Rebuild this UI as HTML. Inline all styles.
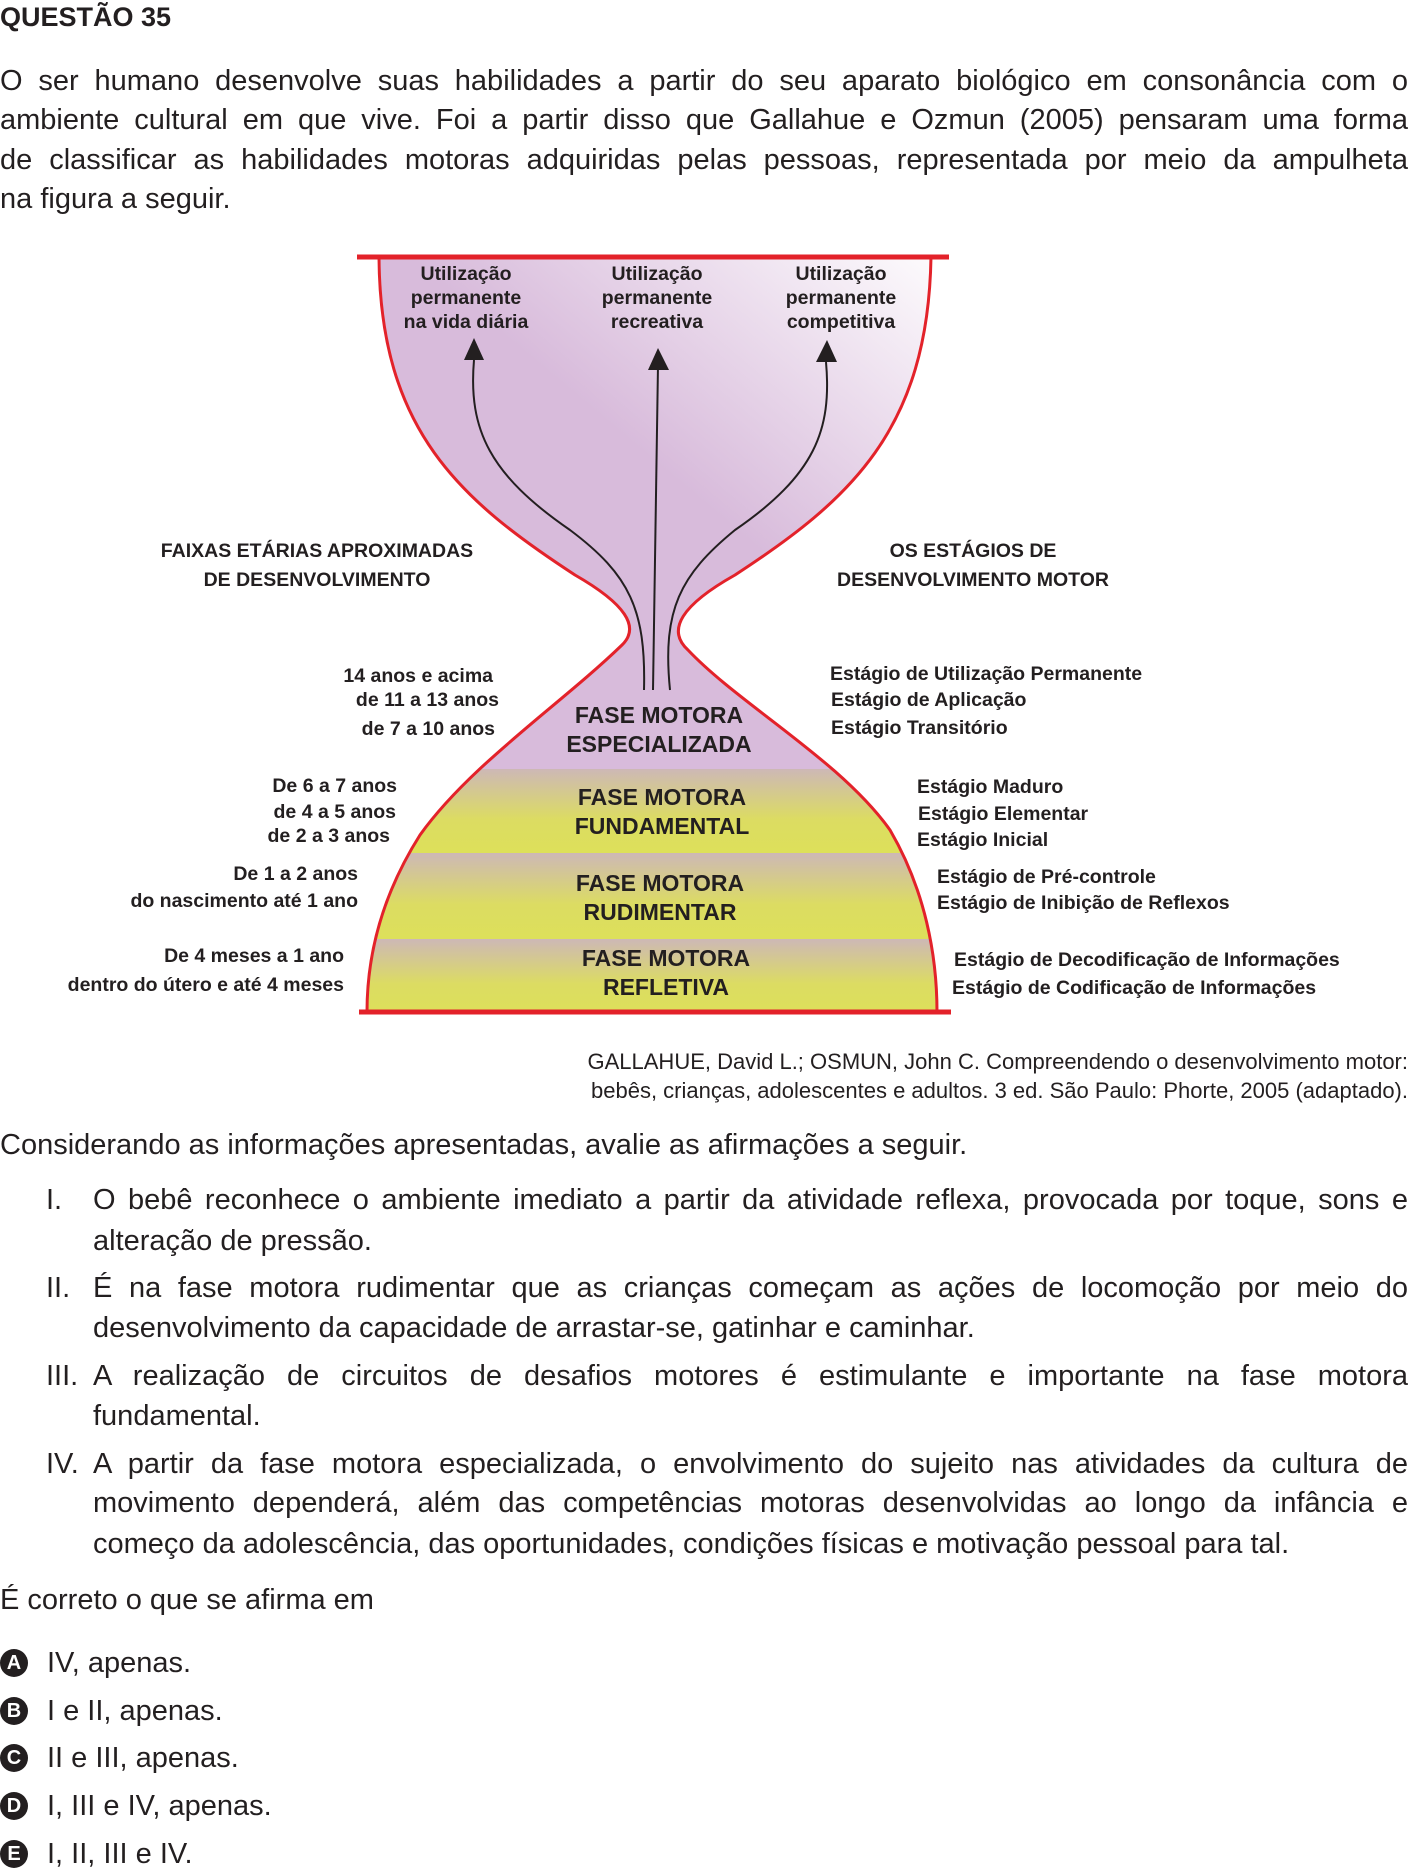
<!DOCTYPE html>
<html><head><meta charset="utf-8">
<style>
*{margin:0;padding:0;box-sizing:border-box}
body{width:1408px;height:1871px;background:#fff;position:relative;overflow:hidden;font-family:"Liberation Sans",sans-serif;color:#231f20}
.a{position:absolute;white-space:nowrap}
.j{position:absolute;left:0;width:1408px;height:40px;line-height:40px;font-size:29px;text-align:justify;text-align-last:justify;white-space:nowrap}
.li{position:absolute;left:93px;width:1315px;height:40px;line-height:40px;font-size:29px;text-align:justify;text-align-last:justify;white-space:nowrap}
.ln{text-align:left;text-align-last:left}
.num{position:absolute;height:40px;line-height:40px;font-size:29px}
.b{font-weight:bold;font-size:19.5px;height:24px;line-height:24px}
.r{text-align:right}
.c{text-align:center}
.ph{font-weight:bold;font-size:23px;line-height:29px;text-align:center;width:300px}
.opt{position:absolute;left:0;height:40px;line-height:40px;font-size:29px}
.opt span.cir{position:absolute;left:0;top:6px;width:28px;height:28px;border-radius:50%;background:#231f20;color:#fff;font-weight:bold;font-size:20px;line-height:28px;text-align:center}
.opt span.t{position:absolute;left:47px;white-space:nowrap}
</style></head><body>
<div class="a" style="left:0;top:2px;font-size:27px;font-weight:bold;line-height:30px">QUESTÃO 35</div>
<div class="j" style="top:61px">O ser humano desenvolve suas habilidades a partir do seu aparato biológico em consonância com o</div>
<div class="j" style="top:100px">ambiente cultural em que vive. Foi a partir disso que Gallahue e Ozmun (2005) pensaram uma forma</div>
<div class="j" style="top:140px">de classificar as habilidades motoras adquiridas pelas pessoas, representada por meio da ampulheta</div>
<div class="j ln" style="top:179px">na figura a seguir.</div>

<svg class="a" style="left:0;top:0" width="1408" height="1100" viewBox="0 0 1408 1100">
<defs>
<linearGradient id="pg" x1="0" y1="1" x2="1" y2="0">
<stop offset="0.55" stop-color="#d8bbdb"/><stop offset="1" stop-color="#ffffff"/></linearGradient>
<linearGradient id="yg" x1="0" y1="0" x2="0" y2="1">
<stop offset="0" stop-color="#cdb8b6"/><stop offset="0.6" stop-color="#dcdc62"/><stop offset="1" stop-color="#dde05a"/></linearGradient>
<clipPath id="hg"><path d="M379,257 C380,430 460,500 575,575 Q650,618 622,645 C560,705 470,765 420,835 C382,895 367,955 367,1012 L937,1012 C937,955 925,890 890,830 C840,760 740,705 688,650 Q655,620 735,575 C850,500 928,430 931,257 Z"/></clipPath>
</defs>
<g clip-path="url(#hg)">
<rect x="340" y="250" width="620" height="520" fill="url(#pg)"/>
<rect x="340" y="769" width="620" height="84" fill="url(#yg)"/>
<rect x="340" y="853" width="620" height="86" fill="url(#yg)"/>
<rect x="340" y="939" width="620" height="75" fill="url(#yg)"/>
</g>
<path d="M379,257 C380,430 460,500 575,575 Q650,618 622,645 C560,705 470,765 420,835 C382,895 367,955 367,1012" fill="none" stroke="#e3222a" stroke-width="3"/>
<path d="M931,257 C928,430 850,500 735,575 Q655,620 688,650 C740,705 840,760 890,830 C925,890 937,955 937,1012" fill="none" stroke="#e3222a" stroke-width="3"/>
<line x1="357" y1="257" x2="949" y2="257" stroke="#e3222a" stroke-width="5"/>
<line x1="359" y1="1012" x2="951" y2="1012" stroke="#e3222a" stroke-width="5"/>
<g fill="none" stroke="#231f20" stroke-width="2">
<path d="M644,690 C646,610 630,575 570,530 C490,475 468,430 474,360"/>
<path d="M653,690 L658,365"/>
<path d="M670,690 C662,610 680,575 735,530 C815,475 832,430 826,362"/>
</g>
<g fill="#231f20">
<polygon points="474,338 464,360 484,360"/>
<polygon points="658,348 648,370 669,370"/>
<polygon points="827,340 816,362 837,362"/>
</g>
</svg>

<div class="a b c" style="left:366px;width:200px;top:262px">Utilização</div>
<div class="a b c" style="left:366px;width:200px;top:286px">permanente</div>
<div class="a b c" style="left:366px;width:200px;top:310px">na vida diária</div>
<div class="a b c" style="left:557px;width:200px;top:262px">Utilização</div>
<div class="a b c" style="left:557px;width:200px;top:286px">permanente</div>
<div class="a b c" style="left:557px;width:200px;top:310px">recreativa</div>
<div class="a b c" style="left:741px;width:200px;top:262px">Utilização</div>
<div class="a b c" style="left:741px;width:200px;top:286px">permanente</div>
<div class="a b c" style="left:741px;width:200px;top:310px">competitiva</div>

<div class="a b c" style="left:117px;width:400px;top:539px">FAIXAS ETÁRIAS APROXIMADAS</div>
<div class="a b c" style="left:117px;width:400px;top:568px">DE DESENVOLVIMENTO</div>
<div class="a b c" style="left:773px;width:400px;top:539px">OS ESTÁGIOS DE</div>
<div class="a b c" style="left:773px;width:400px;top:568px">DESENVOLVIMENTO MOTOR</div>

<div class="a b r" style="right:915px;top:664px">14 anos e acima</div>
<div class="a b r" style="right:909px;top:688px">de 11 a 13 anos</div>
<div class="a b r" style="right:913px;top:717px">de 7 a 10 anos</div>
<div class="a b r" style="right:1011px;top:774px">De 6 a 7 anos</div>
<div class="a b r" style="right:1012px;top:800px">de 4 a 5 anos</div>
<div class="a b r" style="right:1018px;top:824px">de 2 a 3 anos</div>
<div class="a b r" style="right:1050px;top:862px">De 1 a 2 anos</div>
<div class="a b r" style="right:1050px;top:889px">do nascimento até 1 ano</div>
<div class="a b r" style="right:1064px;top:944px">De 4 meses a 1 ano</div>
<div class="a b r" style="right:1064px;top:973px">dentro do útero e até 4 meses</div>

<div class="a b" style="left:830px;top:662px">Estágio de Utilização Permanente</div>
<div class="a b" style="left:831px;top:688px">Estágio de Aplicação</div>
<div class="a b" style="left:831px;top:716px">Estágio Transitório</div>
<div class="a b" style="left:917px;top:775px">Estágio Maduro</div>
<div class="a b" style="left:918px;top:802px">Estágio Elementar</div>
<div class="a b" style="left:917px;top:828px">Estágio Inicial</div>
<div class="a b" style="left:937px;top:865px">Estágio de Pré-controle</div>
<div class="a b" style="left:937px;top:891px">Estágio de Inibição de Reflexos</div>
<div class="a b" style="left:954px;top:948px">Estágio de Decodificação de Informações</div>
<div class="a b" style="left:952px;top:976px">Estágio de Codificação de Informações</div>

<div class="a ph" style="left:509px;top:701px">FASE MOTORA<br>ESPECIALIZADA</div>
<div class="a ph" style="left:512px;top:783px">FASE MOTORA<br>FUNDAMENTAL</div>
<div class="a ph" style="left:510px;top:869px">FASE MOTORA<br>RUDIMENTAR</div>
<div class="a ph" style="left:516px;top:944px">FASE MOTORA<br>REFLETIVA</div>

<div class="a r" style="right:0;top:1047px;font-size:22px;line-height:29px">GALLAHUE, David L.; OSMUN, John C. Compreendendo o desenvolvimento motor:<br>bebês, crianças, adolescentes e adultos. 3 ed. São Paulo: Phorte, 2005 (adaptado).</div>

<div class="j ln" style="top:1125px">Considerando as informações apresentadas, avalie as afirmações a seguir.</div>

<div class="num" style="left:46px;top:1180px">I.</div>
<div class="li" style="top:1180px">O bebê reconhece o ambiente imediato a partir da atividade reflexa, provocada por toque, sons e</div>
<div class="li ln" style="top:1221px">alteração de pressão.</div>
<div class="num" style="left:46px;top:1268px">II.</div>
<div class="li" style="top:1268px">É na fase motora rudimentar que as crianças começam as ações de locomoção por meio do</div>
<div class="li ln" style="top:1308px">desenvolvimento da capacidade de arrastar-se, gatinhar e caminhar.</div>
<div class="num" style="left:46px;top:1356px">III.</div>
<div class="li" style="top:1356px">A realização de circuitos de desafios motores é estimulante e importante na fase motora</div>
<div class="li ln" style="top:1396px">fundamental.</div>
<div class="num" style="left:46px;top:1444px">IV.</div>
<div class="li" style="top:1444px">A partir da fase motora especializada, o envolvimento do sujeito nas atividades da cultura de</div>
<div class="li" style="top:1483px">movimento dependerá, além das competências motoras desenvolvidas ao longo da infância e</div>
<div class="li ln" style="top:1524px">começo da adolescência, das oportunidades, condições físicas e motivação pessoal para tal.</div>

<div class="j ln" style="top:1580px">É correto o que se afirma em</div>

<div class="opt" style="top:1643px"><span class="cir">A</span><span class="t">IV, apenas.</span></div>
<div class="opt" style="top:1691px"><span class="cir">B</span><span class="t">I e II, apenas.</span></div>
<div class="opt" style="top:1738px"><span class="cir">C</span><span class="t">II e III, apenas.</span></div>
<div class="opt" style="top:1786px"><span class="cir">D</span><span class="t">I, III e IV, apenas.</span></div>
<div class="opt" style="top:1834px"><span class="cir">E</span><span class="t">I, II, III e IV.</span></div>
</body></html>
